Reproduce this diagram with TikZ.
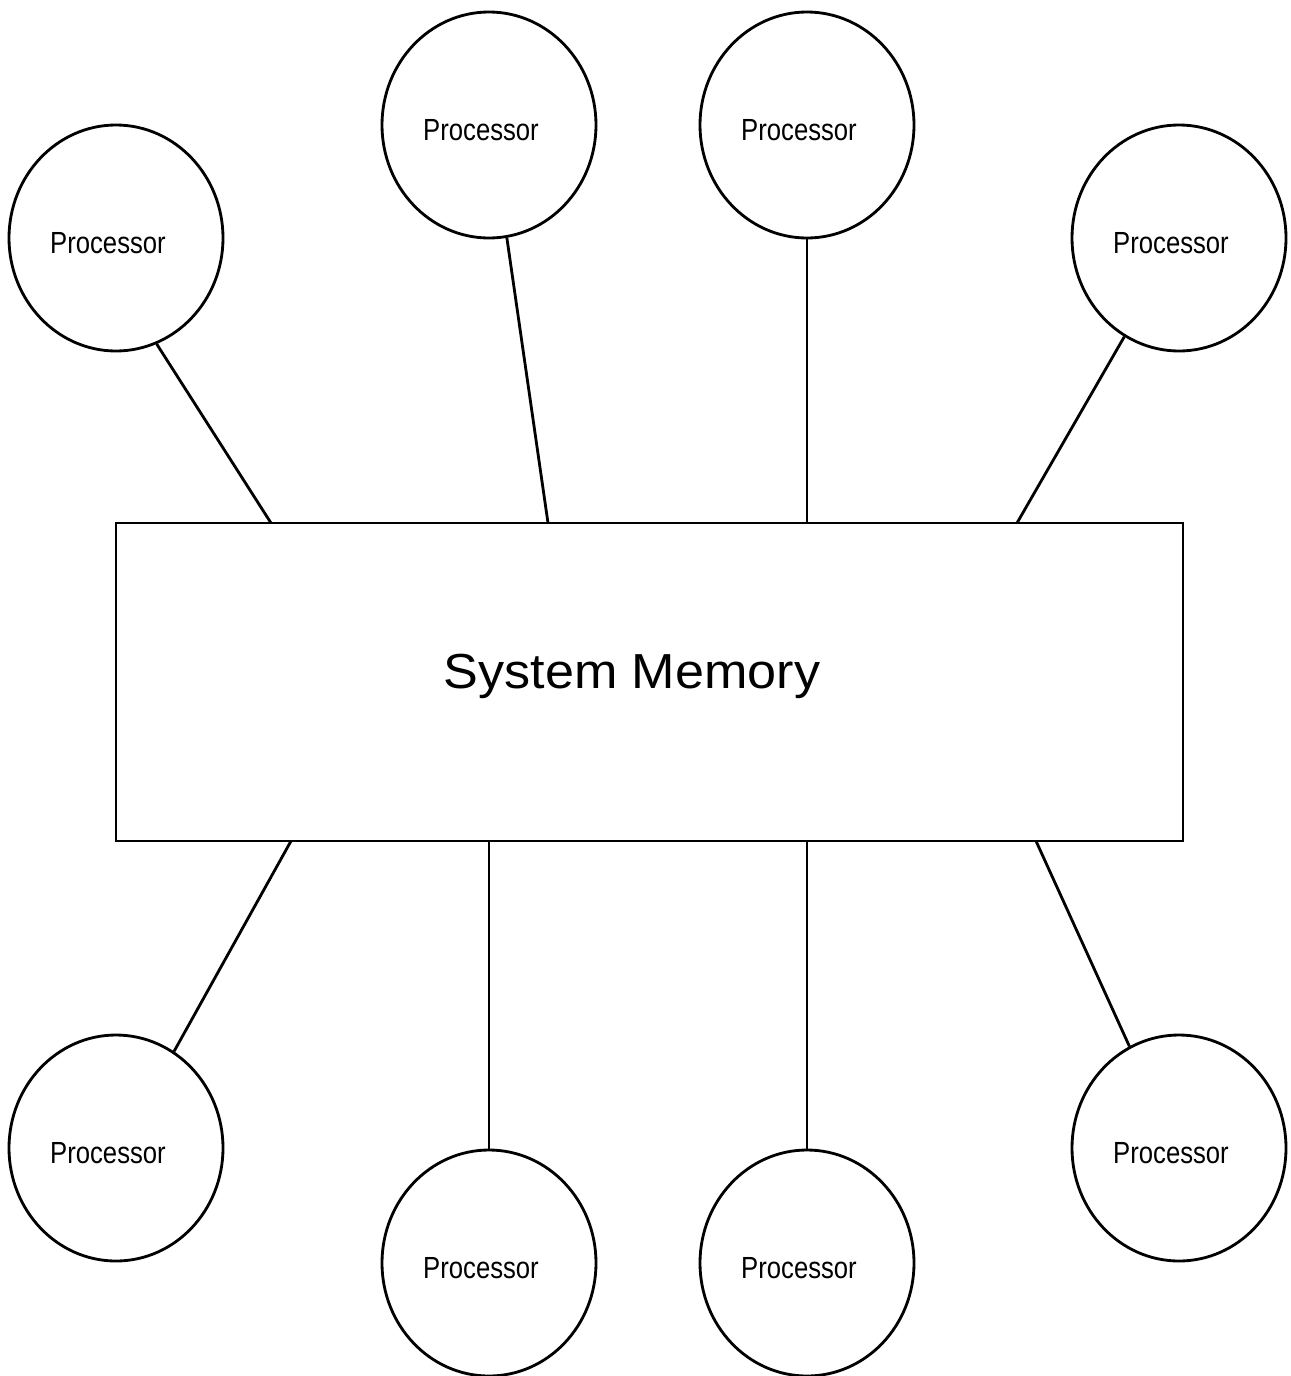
\documentclass[tikz,border=0pt]{standalone}
\usepackage{fontspec}
\setmainfont{Liberation Sans}
\newfontfamily\procfont[FakeStretch=0.84]{Liberation Sans}
\newfontfamily\memfont[FakeStretch=1.06]{Liberation Sans}
\usetikzlibrary{shapes.geometric}
\begin{document}
\begin{tikzpicture}[x=0.02cm,y=-0.02cm,
  proc/.style={draw,ellipse,line width=1.6pt,minimum width=214*0.02cm,minimum height=226*0.02cm,inner sep=0pt,
    label={[plabel]center:Processor}},
  plabel/.style={xshift=-8*0.02cm,yshift=-5*0.02cm,inner sep=0pt,font=\procfont\fontsize{17.4}{19}\selectfont},
  mem/.style={draw,rectangle,line width=1.6pt,minimum width=1067*0.02cm,minimum height=318*0.02cm,inner sep=0pt},
  memtext/.style={anchor=base,inner sep=0pt,font=\memfont\fontsize{28}{32}\selectfont},
  link/.style={line width=1.6pt}]
\useasboundingbox (0,0) rectangle (1291,1376);
\node[mem] (m) at (649.5,682) {};
\node[memtext] (mt) at (632,688) {System Memory};
\node[proc] (p1) at (116,238) {};
\node[proc] (p2) at (489,125) {};
\node[proc] (p3) at (807,125) {};
\node[proc] (p4) at (1179,238) {};
\node[proc] (p5) at (116,1148) {};
\node[proc] (p6) at (489,1263) {};
\node[proc] (p7) at (807,1263) {};
\node[proc] (p8) at (1179,1148) {};
\coordinate (m1) at (271,523);
\coordinate (m2) at (548,523);
\coordinate (m3) at (807,523);
\coordinate (m4) at (1017,523);
\coordinate (m5) at (291,841);
\coordinate (m6) at (489,841);
\coordinate (m7) at (807,841);
\coordinate (m8) at (1036,841);
\draw[link] (p1.-69) -- (m1);
\draw[link] (p2.-81) -- (m2);
\draw[link] (p3.-90) -- (m3);
\draw[link] (p4.-119) -- (m4);
\draw[link] (p5.59) -- (m5);
\draw[link] (p6.90) -- (m6);
\draw[link] (p7.90) -- (m7);
\draw[link] (p8.116) -- (m8);
\end{tikzpicture}
\end{document}
